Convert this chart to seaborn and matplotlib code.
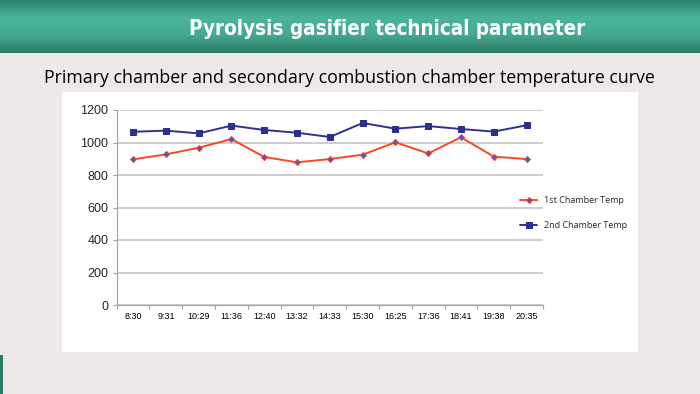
import numpy as np
import pandas as pd
import matplotlib
matplotlib.use("Agg")
import matplotlib.pyplot as plt
from matplotlib import font_manager
from matplotlib.colors import LinearSegmentedColormap
from matplotlib.patches import Rectangle
import seaborn as sns

sns.set_theme(style="white")

# data
times = ['8:30', '9:31', '10:29', '11:36', '12:40', '13:32', '14:33',
         '15:30', '16:25', '17:36', '18:41', '19:38', '20:35']
temp_1st = [896, 927, 968, 1021, 911, 878, 898, 925, 1001, 933, 1032, 913, 898]
temp_2nd = [1066, 1073, 1056, 1104, 1077, 1060, 1034, 1120, 1085, 1101, 1083, 1067, 1106]
y_ticks = [0, 200, 400, 600, 800, 1000, 1200]

df = pd.DataFrame({'Time': times, '1st Chamber Temp': temp_1st, '2nd Chamber Temp': temp_2nd})

# look for a narrow font, fall back to plain DejaVu
installed = {f.name for f in font_manager.fontManager.ttflist}
narrow_stretch = {(f.name, f.stretch) for f in font_manager.fontManager.ttflist}
if 'Liberation Sans Narrow' in installed:
    narrow = dict(family='Liberation Sans Narrow')
elif ('DejaVu Sans', 'condensed') in narrow_stretch or ('DejaVu Sans', 'semi-condensed') in narrow_stretch:
    narrow = dict(family='DejaVu Sans', stretch='condensed')
elif 'Roboto Condensed' in installed:
    narrow = dict(family='Roboto Condensed')
else:
    narrow = None

W, H = 700, 394
fig = plt.figure(figsize=(7, 3.94), dpi=100)
fig.patch.set_facecolor('#EDE9E9')

# white chart panel (behind everything)
panel = fig.add_axes([62 / W, 1 - 352 / H, (638 - 62) / W, (352 - 92) / H], zorder=-5)
panel.set_facecolor('white')
panel.set_axis_off()
panel.add_patch(Rectangle((0, 0), 1, 1, transform=panel.transAxes, facecolor='white', edgecolor='none'))

# header banner with vertical gradient
ban = fig.add_axes([0, 1 - 53 / H, 1, 53 / H])
cmap = LinearSegmentedColormap.from_list('ban', ['#2C8270', '#4CB39B', '#45A890', '#2A7A66'])
ban.imshow(np.linspace(0, 1, 100).reshape(-1, 1), aspect='auto', cmap=cmap, extent=[0, 1, 0, 1])
ban.set_axis_off()
if narrow is not None:
    ban.text(0.553, 0.46, 'Pyrolysis gasifier technical parameter', color='white',
             fontsize=14.8, fontweight='bold', ha='center', va='center',
             transform=ban.transAxes, **narrow)
else:
    ban.text(0.553, 0.46, 'Pyrolysis gasifier technical parameter', color='white',
             fontsize=12, fontweight='bold', ha='center', va='center',
             family='DejaVu Sans', transform=ban.transAxes)

# little green strip bottom-left
fig.patches.append(Rectangle((0, 0), 2.5 / W, 39 / H, transform=fig.transFigure,
                             facecolor='#2A7A66', edgecolor='none'))

fig.text(349 / W, 1 - 78 / H, 'Primary chamber and secondary combustion chamber temperature curve',
         fontsize=12.8, ha='center', va='center', color='black', family=['Open Sans', 'DejaVu Sans'])

ax = fig.add_axes([116.7 / W, 1 - 305 / H, (543 - 116.7) / W, 195 / H])
ax.set_facecolor('white')

sns.lineplot(data=df, x='Time', y='1st Chamber Temp', ax=ax, color='#FF4422', linewidth=1.4,
             marker='D', markersize=3.2, markerfacecolor='#4A5AD0', markeredgecolor='#FF4422',
             markeredgewidth=0.6, sort=False, label='1st Chamber Temp')
sns.lineplot(data=df, x='Time', y='2nd Chamber Temp', ax=ax, color='#2E3192', linewidth=1.4,
             marker='s', markersize=5, markerfacecolor='#2B2F8F', markeredgecolor='#2B2F8F',
             sort=False, label='2nd Chamber Temp')

ax.set_xlim(-0.5, len(times) - 0.5)
ax.set_ylim(0, 1200)
ax.set_yticks(y_ticks)
ax.set_yticklabels([str(v) for v in y_ticks], fontsize=9, family=['Liberation Sans', 'DejaVu Sans'])
ax.set_xticks(range(len(times)))
ax.set_xticklabels(times, fontsize=6.5, family=['Liberation Sans', 'DejaVu Sans'])
ax.set_xticks(np.arange(-0.5, len(times), 1), minor=True)
ax.tick_params(axis='x', which='major', length=0, pad=5, colors='black')
ax.tick_params(axis='x', which='minor', length=3, color='#A0A0A0', width=0.8, direction='out', bottom=True)
ax.tick_params(axis='y', which='major', length=3, color='#A0A0A0', width=0.8, direction='out', left=True, pad=3)
ax.set_xlabel('')
ax.set_ylabel('')

ax.grid(axis='y', color='#C0C0C0', linewidth=1.1)
ax.set_axisbelow(True)
for side in ['top', 'right']:
    ax.spines[side].set_visible(False)
for side in ['left', 'bottom']:
    ax.spines[side].set_color('#A8A8A8')
    ax.spines[side].set_linewidth(0.9)

ax.legend(loc='upper left', bbox_to_anchor=(512 / W, 1 - 188 / H), bbox_transform=fig.transFigure,
          frameon=False, handlelength=1.9, handletextpad=0.7, labelspacing=1.75,
          prop={'family': ['Open Sans', 'DejaVu Sans'], 'size': 6.5})

fig.savefig('out.png', dpi=100, facecolor=fig.get_facecolor())
